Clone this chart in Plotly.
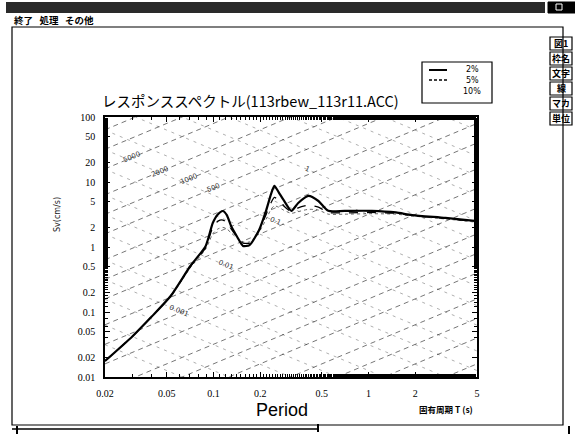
import numpy as np
import plotly.graph_objects as go

# ---------------- data ----------------
period = [0.02, 0.03, 0.04, 0.053, 0.071, 0.089, 0.099, 0.107, 0.115, 0.122, 0.13,
          0.143, 0.155, 0.171, 0.197, 0.219, 0.235, 0.247, 0.263, 0.283, 0.318,
          0.352, 0.41, 0.475, 0.55, 0.70, 1.05, 1.5, 1.91, 3.13, 5.0]
sv_h2 = [0.0176, 0.042, 0.085, 0.176, 0.51, 1.03, 2.34, 3.2, 3.58, 3.1, 2.1,
         1.4, 1.04, 1.07, 1.83, 3.7, 6.5, 8.7, 7.0, 5.3, 3.6,
         4.75, 6.1, 5.1, 3.6, 3.6, 3.6, 3.4, 3.1, 2.8, 2.5]
sv_h5 = [0.0176, 0.042, 0.085, 0.176, 0.50, 0.98, 2.0, 2.5, 2.6, 2.4, 1.9,
         1.4, 1.15, 1.15, 1.8, 3.2, 4.8, 5.8, 5.3, 4.3, 3.5,
         4.0, 4.4, 4.1, 3.4, 3.35, 3.4, 3.3, 3.05, 2.75, 2.45]
sv_h10 = [0.0176, 0.042, 0.084, 0.172, 0.48, 0.92, 1.6, 1.9, 2.0, 1.9, 1.65,
          1.35, 1.2, 1.2, 1.7, 2.7, 3.8, 4.3, 4.1, 3.7, 3.3,
          3.5, 3.8, 3.7, 3.2, 3.2, 3.25, 3.2, 3.0, 2.7, 2.4]
series_names = ["2%", "5%", "10%"]

x_tick_vals = [0.02, 0.05, 0.1, 0.2, 0.5, 1, 2, 5]
x_tick_text = ["0.02", "0.05", "0.1", "0.2", "0.5", "1", "2", "5"]
y_tick_vals = [100, 50, 20, 10, 5, 2, 1, 0.5, 0.2, 0.1, 0.05, 0.02, 0.01]
y_tick_text = ["100", "50", "20", "10", "5", "2", "1", "0.5", "0.2", "0.1", "0.05", "0.02", "0.01"]

# tripartite grid values
accel_vals = [m * 10.0 ** k for k in range(-2, 5) for m in (1, 2, 5)]   # gal
disp_vals = [m * 10.0 ** k for k in range(-4, 2) for m in (1, 2, 5)]    # cm
accel_labels = [5000, 2000, 1000, 500]
disp_labels = [10, 1, 0.1, 0.01, 0.001]

title_text = "レスポンススペクトル(113rbew_113r11.ACC)"
menu_text = "<b>終了   処理   その他</b>"
buttons = ["図1", "枠名", "文字", "線", "マカ", "単位"]

# ---------------- geometry helpers (page pixels) ----------------
W, H = 575, 435
L, R, T, B = 105, 477, 117, 377


def px(x):
    return (x - L) / (R - L)


def py(y):
    return (B - y) / (B - T)


JP = "Noto Sans CJK JP"

fig = go.Figure()

# tripartite grid lines
t0, t1 = 0.02, 5.0
gx, gy = [], []
for a in accel_vals:
    gx += [t0, t1, None]
    gy += [a * t0 / (2 * np.pi), a * t1 / (2 * np.pi), None]
fig.add_trace(go.Scatter(x=gx, y=gy, mode="lines", showlegend=False, hoverinfo="skip",
                         line=dict(color="rgba(0,0,0,0.6)", width=0.9, dash="5px,4px")))
dx, dy = [], []
for d in disp_vals:
    dx += [t0, t1, None]
    dy += [2 * np.pi * d / t0, 2 * np.pi * d / t1, None]
fig.add_trace(go.Scatter(x=dx, y=dy, mode="lines", showlegend=False, hoverinfo="skip",
                         line=dict(color="rgba(0,0,0,0.4)", width=0.8, dash="3px,5px")))

# spectra
fig.add_trace(go.Scatter(x=period, y=sv_h2, mode="lines", name=series_names[0], showlegend=False,
                         line=dict(color="black", width=2.2, shape="spline", smoothing=0.6)))
fig.add_trace(go.Scatter(x=period, y=sv_h5, mode="lines", name=series_names[1], showlegend=False,
                         line=dict(color="black", width=1.3, dash="dash", shape="spline", smoothing=0.6)))
fig.add_trace(go.Scatter(x=period, y=sv_h10, mode="lines", name=series_names[2], showlegend=False,
                         line=dict(color="rgba(0,0,0,0.6)", width=1, dash="dot", shape="spline", smoothing=0.6)))


def ann(x, y, text, size, family, xanchor="center", yanchor="middle", angle=0, color="black"):
    return dict(x=px(x), y=py(y), xref="paper", yref="paper", text=text, showarrow=False,
                xanchor=xanchor, yanchor=yanchor, textangle=angle,
                font=dict(size=size, family=family, color=color))


annotations = []
# grid labels
for a, tt in zip(accel_labels, [0.03, 0.045, 0.07, 0.1]):
    annotations.append(dict(x=np.log10(tt), y=np.log10(a * tt / (2 * np.pi)), xref="x", yref="y",
                            text=str(a), showarrow=False, xanchor="center", yanchor="middle",
                            font=dict(size=7, color="#333", family="DejaVu Sans"), textangle=-22))
for d, tt in zip(disp_labels, [0.6, 0.4, 0.25, 0.12, 0.06]):
    annotations.append(dict(x=np.log10(tt), y=np.log10(2 * np.pi * d / tt), xref="x", yref="y",
                            text=str(d), showarrow=False, xanchor="center", yanchor="middle",
                            font=dict(size=7, color="#333", family="DejaVu Sans"), textangle=22))

# chart texts
annotations += [
    ann(100, 100, title_text, 14.5, JP, xanchor="left"),
    ann(57, 215, "Sv(cm/s)", 8, "DejaVu Sans", angle=-90, color="#222"),
    ann(282, 410, "Period", 18, "Liberation Sans"),
    ann(446, 409, "<b>固有周期 T (s)</b>", 8.5, JP),
    ann(12, 20, menu_text, 9.5, JP, xanchor="left"),
]

shapes = []
# manual legend
shapes.append(dict(type="rect", xref="paper", yref="paper", x0=px(422), x1=px(492), y0=py(62), y1=py(103),
                   line=dict(color="black", width=1.2), fillcolor="white"))
shapes.append(dict(type="line", xref="paper", yref="paper", x0=px(429), x1=px(447), y0=py(70), y1=py(70),
                   line=dict(color="black", width=2)))
shapes.append(dict(type="line", xref="paper", yref="paper", x0=px(429), x1=px(447), y0=py(80), y1=py(80),
                   line=dict(color="black", width=1.3, dash="3px,2px")))
for name, yy in zip(series_names, [69, 80, 92]):
    annotations.append(ann(472, yy, name, 8, "DejaVu Sans"))

# right-side tool buttons
for i, b in enumerate(buttons):
    y0 = 37 + i * 15
    y1 = y0 + 13
    shapes.append(dict(type="rect", xref="paper", yref="paper", x0=px(550), x1=px(572), y0=py(y0), y1=py(y1),
                       line=dict(color="black", width=1.2), fillcolor="white"))
    annotations.append(ann(561, (y0 + y1) / 2, "<b>" + b + "</b>", 9, JP))

# window chrome
shapes += [
    dict(type="rect", xref="paper", yref="paper", x0=px(6), x1=px(545), y0=py(2), y1=py(13),
         line=dict(width=0), fillcolor="#2a2a2a"),
    dict(type="rect", xref="paper", yref="paper", x0=px(548), x1=px(575), y0=py(2), y1=py(13),
         line=dict(color="black", width=1), fillcolor="black"),
    dict(type="rect", xref="paper", yref="paper", x0=px(556), x1=px(562), y0=py(4), y1=py(10),
         line=dict(color="white", width=1), fillcolor="rgba(0,0,0,0)"),
    dict(type="rect", xref="paper", yref="paper", x0=px(12), x1=px(563), y0=py(27), y1=py(425),
         line=dict(color="black", width=1.2), fillcolor="rgba(0,0,0,0)"),
    dict(type="line", xref="paper", yref="paper", x0=px(12), x1=px(318), y0=py(429), y1=py(429),
         line=dict(color="black", width=1.5)),
    dict(type="line", xref="paper", yref="paper", x0=px(318), x1=px(318), y0=py(424), y1=py(432),
         line=dict(color="black", width=2)),
    dict(type="line", xref="paper", yref="paper", x0=px(17), x1=px(17), y0=py(426), y1=py(434),
         line=dict(color="black", width=2)),
    dict(type="line", xref="paper", yref="paper", x0=px(569), x1=px(569), y0=py(426), y1=py(434),
         line=dict(color="black", width=2)),
]

fig.update_layout(
    width=W, height=H,
    margin=dict(l=L, r=W - R, t=T, b=H - B),
    paper_bgcolor="white", plot_bgcolor="white",
    showlegend=False,
    annotations=annotations,
    shapes=shapes,
)
axis_common = dict(showgrid=False, zeroline=False, showline=True, linecolor="black", linewidth=1.5,
                   mirror="ticks", ticks="inside", ticklen=5, tickcolor="black",
                   minor=dict(ticks="inside", ticklen=3, tickcolor="black", showgrid=False),
                   tickfont=dict(size=10, family="Liberation Serif", color="black"))
fig.update_xaxes(type="log", range=[np.log10(0.02), np.log10(5)], tickvals=x_tick_vals, ticktext=x_tick_text,
                 ticklabelstandoff=6, **axis_common)
fig.update_yaxes(type="log", range=[-2, 2], tickvals=y_tick_vals, ticktext=y_tick_text,
                 ticklabelstandoff=6, **axis_common)

fig.write_html("out.html", config={"displayModeBar": False},
               post_script="document.body.style.margin='0px';")
